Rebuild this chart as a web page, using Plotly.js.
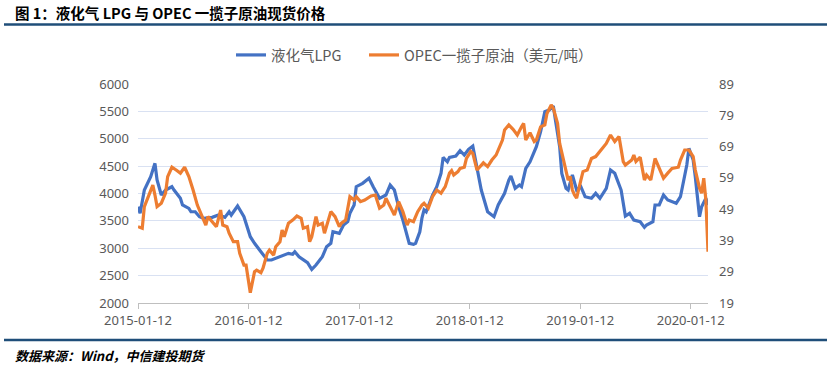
<!DOCTYPE html>
<html>
<head>
<meta charset="utf-8">
<script src="https://cdn.plot.ly/plotly-3.0.1.min.js"></script>
<style>
html,body{margin:0;padding:0;background:#fff;}
#chart{width:831px;height:369px;}
</style>
</head>
<body>
<div id="chart"></div>
<script>
// Weekly data; x given as week number counted from the first week (2015-01-12)
const startDate = '2015-01-12';

const lpgWeeks = [0,1,3,6,8,9,11,13,16,17,20,21,24,25,27,29,31,35,38,41,43,44,47,50,53,55,58,61,63,65,69,71,73,74,76,80,82,84,87,89,91,92,95,97,99,100,102,103,106,109,111,114,117,119,121,123,125,128,130,131,133,134,135,136,139,141,143,144,146,147,150,152,154,156,158,159,161,162,165,168,170,173,175,176,178,180,181,183,185,188,190,192,194,196,197,199,200,202,203,205,207,209,211,214,216,218,221,223,225,228,230,232,234,237,239,240,243,244,246,248,250,252,254,256,259,260,262,263,265,266,268,269];
const lpgValues = [3758,3638,4063,4306,4551,4246,3972,4063,4124,4063,3912,3790,3729,3667,3667,3576,3546,3564,3607,3564,3667,3607,3771,3576,3211,3090,2937,2785,2785,2816,2864,2907,2889,2937,2845,2736,2615,2694,2845,3028,3090,3302,3272,3424,3485,3638,3790,4124,4186,4277,4124,3912,3972,4155,4063,3758,3516,3090,3070,3090,3300,3550,3700,3667,3972,4124,4368,4660,4580,4660,4684,4781,4703,4806,4867,4672,4306,4063,3667,3576,3790,4003,4246,4319,4094,4155,4124,4460,4580,4854,5128,5493,5524,5597,5342,4854,4368,4094,4063,4337,4063,4124,3941,3912,4003,3912,4094,4429,4368,4063,3589,3638,3516,3485,3382,3424,3485,3790,3790,3972,3881,3850,3820,3941,4520,4825,4611,4306,3576,3758,3912,3790];

const opecWeeks = [0,2,3,5,7,8,9,11,13,14,16,18,20,22,24,26,28,31,32,33,35,37,39,40,42,43,45,47,48,50,51,52,53,55,56,58,59,61,62,64,65,67,68,69,71,73,75,77,78,80,81,82,84,85,87,88,90,91,93,95,96,98,100,102,103,105,107,110,112,114,116,117,119,121,123,125,127,128,130,132,134,135,137,139,141,143,145,147,148,149,151,152,154,155,157,158,160,162,163,165,167,169,170,172,173,175,177,179,181,182,183,185,187,188,190,192,193,195,196,198,199,201,203,204,205,206,207,209,210,212,214,216,218,221,223,225,227,229,230,233,234,235,237,239,240,242,244,246,248,250,252,255,256,258,260,262,263,265,266,267,268,269];
const opecValues = [43.4,42.9,49.8,53.5,56.7,53.5,49.8,50.9,54.1,59.4,62.4,61.5,60.5,62.4,59.4,55.1,50.3,45.5,43.9,46.6,45.0,43.4,48.7,43.9,43.4,41.3,38.6,38.6,34.9,31.1,31.1,26.4,22.3,29.0,29.5,28.7,30.1,34.9,35.9,34.3,37.0,38.6,42.3,40.2,44.5,45.5,46.8,46.1,42.9,43.4,38.6,40.2,46.6,43.9,44.5,41.3,45.5,48.2,46.6,43.4,44.5,45.5,53.0,51.9,53.0,51.4,51.9,53.2,53.5,49.3,50.3,52.5,49.8,47.1,51.4,48.2,43.9,45.5,45.0,48.2,50.3,50.9,49.3,53.0,55.1,54.1,56.2,60.5,61.3,59.9,61.0,62.0,62.4,65.2,67.4,66.8,61.5,63.1,63.8,62.6,64.7,66.3,67.9,71.1,74.3,75.9,74.5,72.7,75.3,76.4,71.1,73.4,70.6,71.1,75.3,75.9,79.6,82.3,81.2,76.4,70.0,64.2,58.3,59.4,55.1,53.5,52.5,58.3,61.0,61.5,65.2,65.8,67.4,70.0,72.7,70.6,72.2,64.2,63.1,64.7,66.3,64.2,65.6,58.3,59.9,58.3,65.2,62.0,58.9,60.5,62.0,62.4,64.7,67.9,67.9,65.8,61.5,55.7,54.1,58.9,51.9,35.4];

const xTickDates = ['2015-01-12','2016-01-12','2017-01-12','2018-01-12','2019-01-12','2020-01-12'];
const xTickLabels = ['2015-01-12','2016-01-12','2017-01-12','2018-01-12','2019-01-12','2020-01-12'];

const seriesNames = ['液化气LPG','OPEC一揽子原油（美元/吨）'];
const titleText = '图 1：液化气 LPG 与 OPEC 一揽子原油现货价格';
const sourceText = '数据来源：Wind，中信建投期货';

function weekToDate(w){
  const d = new Date(startDate + 'T00:00:00Z');
  d.setUTCDate(d.getUTCDate() + 7*w);
  return d.toISOString().slice(0,10);
}
const lpgDates = lpgWeeks.map(weekToDate);
const opecDates = opecWeeks.map(weekToDate);

const font = "'Noto Sans', 'Noto Sans CJK SC', sans-serif";
const cjk = "'Noto Sans CJK SC', sans-serif";

const traces = [
  {x: lpgDates, y: lpgValues, name: seriesNames[0], type:'scatter', mode:'lines',
   line:{color:'#4472C4', width:3.2}, yaxis:'y', legend:'legend'},
  {x: opecDates, y: opecValues, name: seriesNames[1], type:'scatter', mode:'lines',
   line:{color:'#ED7D31', width:3.2}, yaxis:'y2', legend:'legend2'}
];

const W = 831, H = 369, L = 138, R = 708, T = 84, B = 303;
const px = x => (x - L)/(R - L);
const py = y => (B - y)/(B - T);

const legendFont = {family: cjk, size: 14.5, color:'#595959'};
const layout = {
  width: W, height: H,
  margin: {l: L, r: W - R, t: T, b: H - B, pad: 0},
  paper_bgcolor:'#fff', plot_bgcolor:'#fff',
  showlegend: true,
  legend: {orientation:'h', x: px(231), xanchor:'left', y: py(55), yanchor:'middle',
    font: legendFont, itemwidth: 30},
  legend2: {orientation:'h', x: px(364), xanchor:'left', y: py(55), yanchor:'middle',
    font: legendFont, itemwidth: 30},
  font: {family: font, size: 13, color:'#595959'},
  xaxis: {
    type:'date',
    range:[lpgDates[0], lpgDates[lpgDates.length-1]],
    tickvals: xTickDates, ticktext: xTickLabels,
    ticks:'outside', ticklen:5, tickcolor:'#BFBFBF', tickwidth:1,
    showline:true, linecolor:'#BFBFBF', linewidth:1,
    showgrid:false, zeroline:false,
    tickfont:{family: font, size: 13, color:'#595959'}
  },
  yaxis: {
    range:[2000, 6000], dtick:500, tick0:2000,
    showgrid:true, gridcolor:'#D9E1F2', gridwidth:1,
    zeroline:false, showline:false, ticks:'', ticklabelstandoff: 8,
    tickfont:{family: font, size: 13, color:'#595959'}
  },
  yaxis2: {
    overlaying:'y', side:'right',
    range:[19, 89], dtick:10, tick0:19,
    showgrid:false, zeroline:false, showline:false, ticks:'', ticklabelstandoff: 10,
    tickfont:{family: font, size: 13, color:'#595959'}
  },
  shapes: [
    {type:'line', xref:'paper', yref:'paper', x0: px(4), x1: px(827), y0: py(24.5), y1: py(24.5),
     line:{color:'#1F4E79', width:2.5}},
    {type:'line', xref:'paper', yref:'paper', x0: px(4), x1: px(827), y0: py(340), y1: py(340),
     line:{color:'#1F4E79', width:2.5}}
  ],
  annotations: [
    {text: titleText, xref:'paper', yref:'paper', x: px(13), y: py(12), xanchor:'left', yanchor:'middle',
     showarrow:false, font:{family: cjk, size: 14.5, color:'#000', weight:'bold'}},
    {text: sourceText, xref:'paper', yref:'paper', x: px(13), y: py(355), xanchor:'left', yanchor:'middle',
     showarrow:false, font:{family: cjk, size: 13, color:'#000', weight:'bold', style:'italic'}}
  ]
};

Plotly.newPlot('chart', traces, layout, {displayModeBar:false, staticPlot:true});
</script>
</body>
</html>
